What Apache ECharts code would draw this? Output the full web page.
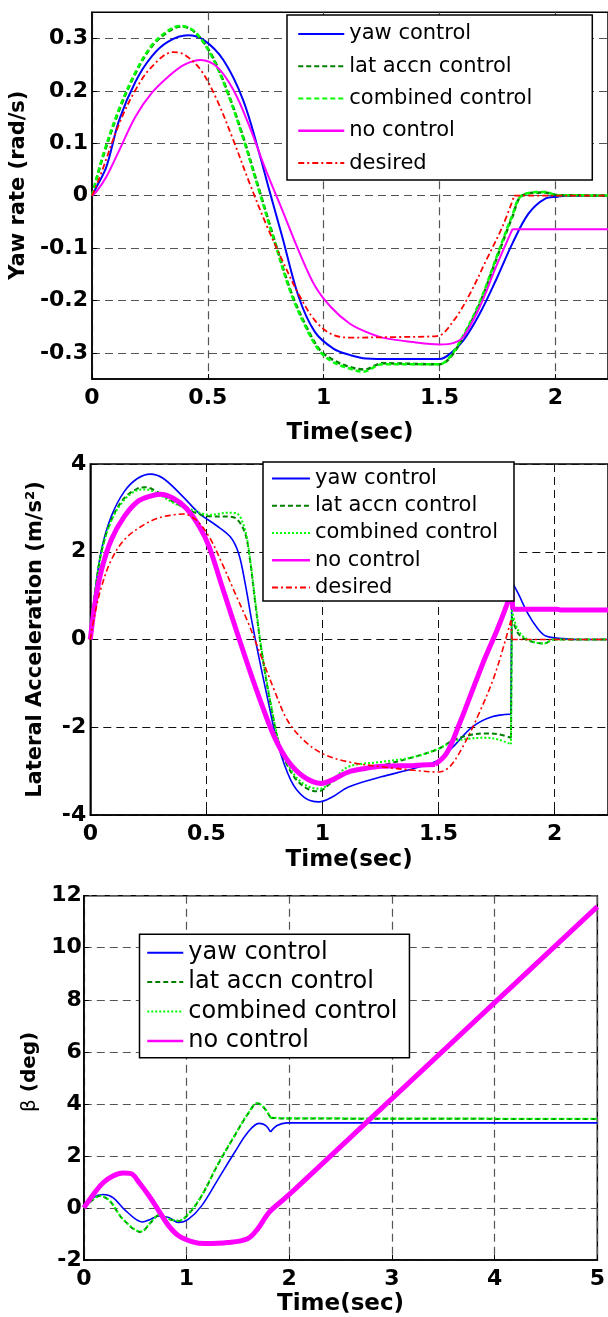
<!DOCTYPE html>
<html>
<head>
<meta charset="utf-8">
<script src="https://cdn.jsdelivr.net/npm/echarts@6/dist/echarts.min.js"></script>
<style>
  html, body { margin: 0; padding: 0; background: #fff; }
  #main { width: 608px; height: 1317px; }
</style>
</head>
<body>
<div id="main"></div>
<script>
// ---- yaw rate (rad/s) ----
var yrYaw = [[0,0],[0.02,0.017],[0.062,0.055],[0.118,0.145],[0.188,0.218],[0.258,0.266],[0.329,0.294],[0.413,0.306],[0.483,0.297],[0.567,0.259],[0.652,0.183],[0.722,0.081],[0.765,0.011],[0.821,-0.078],[0.892,-0.193],[0.962,-0.26],[1.042,-0.292],[1.112,-0.304],[1.183,-0.311],[1.3,-0.312],[1.5,-0.312],[1.548,-0.301],[1.604,-0.276],[1.674,-0.225],[1.744,-0.161],[1.815,-0.091],[1.885,-0.034],[1.955,-0.006],[2.01,-0.002],[2.05,0],[2.5,0]];
var yrLat = [[0,0],[0.048,0.075],[0.118,0.164],[0.188,0.234],[0.258,0.285],[0.329,0.313],[0.385,0.323],[0.441,0.313],[0.512,0.272],[0.582,0.202],[0.652,0.113],[0.722,0.011],[0.792,-0.091],[0.862,-0.187],[0.933,-0.257],[0.985,-0.295],[1.042,-0.314],[1.112,-0.327],[1.176,-0.332],[1.253,-0.32],[1.5,-0.322],[1.548,-0.308],[1.604,-0.269],[1.674,-0.206],[1.744,-0.123],[1.815,-0.04],[1.857,0],[1.955,0.006],[2.01,0.001],[2.5,0]];
var yrComb = [[0,0],[0.048,0.078],[0.118,0.167],[0.188,0.236],[0.258,0.287],[0.329,0.315],[0.38,0.324],[0.441,0.314],[0.512,0.27],[0.582,0.2],[0.652,0.11],[0.722,0.008],[0.792,-0.094],[0.862,-0.19],[0.933,-0.26],[0.985,-0.298],[1.042,-0.318],[1.112,-0.33],[1.17,-0.336],[1.253,-0.322],[1.5,-0.322],[1.548,-0.306],[1.604,-0.266],[1.674,-0.203],[1.744,-0.12],[1.815,-0.037],[1.857,0.001],[1.955,0.007],[2.01,0.001],[2.5,0]];
var yrNone = [[0,0],[0.02,0.008],[0.062,0.036],[0.118,0.087],[0.188,0.151],[0.258,0.196],[0.329,0.227],[0.399,0.25],[0.469,0.259],[0.539,0.246],[0.61,0.202],[0.68,0.132],[0.75,0.049],[0.821,-0.027],[0.891,-0.104],[0.962,-0.172],[1.032,-0.213],[1.112,-0.244],[1.183,-0.26],[1.253,-0.271],[1.393,-0.28],[1.5,-0.284],[1.562,-0.281],[1.604,-0.269],[1.674,-0.212],[1.744,-0.136],[1.815,-0.064],[2.5,-0.064]];
var yrDes = [[0,0],[0.034,0.036],[0.118,0.138],[0.188,0.202],[0.258,0.246],[0.35,0.274],[0.399,0.269],[0.469,0.24],[0.539,0.183],[0.61,0.106],[0.68,0.024],[0.75,-0.053],[0.821,-0.123],[0.891,-0.187],[0.962,-0.238],[1.032,-0.264],[1.112,-0.271],[1.3,-0.27],[1.49,-0.268],[1.562,-0.238],[1.632,-0.187],[1.702,-0.123],[1.772,-0.059],[1.823,0],[2.5,0]];

// ---- lateral acceleration (m/s^2) ----
var laYaw = [[0,0],[0.02,1.05],[0.048,2.04],[0.09,2.8],[0.146,3.37],[0.203,3.67],[0.259,3.77],[0.315,3.67],[0.4,3.25],[0.47,2.87],[0.54,2.61],[0.603,2.34],[0.639,1.96],[0.667,1.28],[0.695,0.44],[0.723,-0.32],[0.765,-1.38],[0.807,-2.37],[0.864,-3.21],[0.92,-3.59],[0.985,-3.7],[1.042,-3.59],[1.112,-3.36],[1.253,-3.13],[1.393,-2.94],[1.5,-2.75],[1.562,-2.45],[1.646,-1.99],[1.73,-1.76],[1.812,-1.7],[1.816,1.32],[1.843,1.05],[1.885,0.59],[1.927,0.25],[1.962,0.08],[2.04,0.02],[2.1,0],[2.5,0]];
var laLat = [[0,0],[0.02,1.05],[0.048,2.0],[0.09,2.72],[0.146,3.22],[0.203,3.44],[0.238,3.47],[0.287,3.37],[0.371,3.1],[0.442,2.91],[0.512,2.81],[0.596,2.8],[0.632,2.74],[0.667,2.42],[0.688,1.81],[0.709,0.9],[0.737,-0.24],[0.779,-1.54],[0.821,-2.52],[0.878,-3.13],[0.934,-3.4],[0.98,-3.46],[1.042,-3.25],[1.112,-3.02],[1.253,-2.87],[1.393,-2.68],[1.5,-2.49],[1.562,-2.3],[1.632,-2.18],[1.702,-2.14],[1.758,-2.16],[1.812,-2.24],[1.816,0.52],[1.843,0.14],[1.885,-0.02],[1.955,-0.09],[1.997,0],[2.5,0]];
var laComb = [[0,0],[0.02,1.03],[0.048,1.98],[0.09,2.7],[0.146,3.18],[0.203,3.4],[0.24,3.42],[0.287,3.33],[0.371,3.08],[0.442,2.95],[0.512,2.84],[0.596,2.89],[0.632,2.87],[0.667,2.49],[0.688,1.85],[0.709,0.95],[0.737,-0.2],[0.779,-1.5],[0.821,-2.48],[0.878,-3.08],[0.934,-3.34],[0.99,-3.4],[1.042,-3.21],[1.112,-2.9],[1.253,-2.79],[1.393,-2.68],[1.5,-2.49],[1.562,-2.33],[1.632,-2.26],[1.702,-2.24],[1.758,-2.28],[1.812,-2.39],[1.816,0.67],[1.843,0.21],[1.885,0],[1.955,-0.09],[1.997,0],[2.5,0]];
var laNone = [[0,0],[0.02,0.82],[0.048,1.58],[0.09,2.27],[0.146,2.8],[0.203,3.14],[0.259,3.27],[0.301,3.31],[0.357,3.22],[0.413,2.99],[0.47,2.57],[0.512,2.11],[0.568,1.2],[0.624,0.29],[0.681,-0.62],[0.737,-1.46],[0.793,-2.22],[0.849,-2.75],[0.92,-3.13],[0.995,-3.28],[1.042,-3.2],[1.112,-3.02],[1.183,-2.94],[1.253,-2.89],[1.393,-2.87],[1.485,-2.85],[1.534,-2.6],[1.59,-1.92],[1.646,-1.16],[1.702,-0.4],[1.758,0.29],[1.815,1.09],[1.82,0.69],[2.01,0.69],[2.03,0.67],[2.5,0.67]];
var laDes = [[0,0],[0.02,0.59],[0.048,1.2],[0.09,1.81],[0.146,2.27],[0.217,2.57],[0.287,2.76],[0.357,2.84],[0.4,2.86],[0.456,2.72],[0.512,2.34],[0.568,1.73],[0.624,1.05],[0.681,0.37],[0.737,-0.4],[0.793,-1.16],[0.849,-1.84],[0.92,-2.3],[1.0,-2.6],[1.112,-2.79],[1.253,-2.9],[1.393,-2.98],[1.5,-3.02],[1.548,-2.9],[1.604,-2.45],[1.674,-1.69],[1.744,-0.78],[1.812,0.44],[1.816,0],[2.5,0]];

// ---- beta (deg) ----
var bYaw = [[0,0],[0.093,0.4],[0.188,0.52],[0.284,0.4],[0.412,-0.12],[0.572,-0.54],[0.652,-0.43],[0.732,-0.31],[0.827,-0.37],[0.923,-0.56],[1.019,-0.43],[1.147,0.08],[1.307,1.1],[1.466,2.12],[1.594,2.89],[1.706,3.25],[1.77,3.17],[1.818,2.92],[1.882,3.17],[1.978,3.27],[5,3.27]];
var bLat = [[0,0],[0.093,0.33],[0.157,0.46],[0.252,0.27],[0.38,-0.43],[0.556,-0.92],[0.652,-0.56],[0.732,-0.28],[0.827,-0.43],[0.923,-0.5],[1.019,-0.24],[1.147,0.46],[1.307,1.68],[1.466,2.76],[1.594,3.59],[1.69,4.02],[1.754,3.85],[1.818,3.47],[1.946,3.44],[5,3.42]];
var bComb = [[0,0],[0.093,0.34],[0.157,0.47],[0.252,0.28],[0.38,-0.42],[0.556,-0.9],[0.652,-0.55],[0.732,-0.27],[0.827,-0.42],[0.923,-0.49],[1.019,-0.22],[1.147,0.48],[1.307,1.7],[1.466,2.78],[1.594,3.6],[1.69,4.03],[1.754,3.86],[1.818,3.48],[1.946,3.45],[5,3.43]];
var bNone = [[0,0],[0.093,0.52],[0.188,0.97],[0.284,1.23],[0.38,1.34],[0.46,1.32],[0.54,0.97],[0.636,0.46],[0.732,-0.12],[0.827,-0.69],[0.923,-1.07],[1.051,-1.29],[1.179,-1.37],[1.403,-1.33],[1.594,-1.18],[1.69,-0.82],[1.802,-0.18],[1.946,0.33],[2.073,0.78],[5,11.58]];

// tick labels
var yrTicks = [-0.3, -0.2, -0.1, 0, 0.1, 0.2, 0.3];
var tTicks = [0, 0.5, 1, 1.5, 2];

var legend1 = ['yaw control', 'lat accn control', 'combined control', 'no control', 'desired'];
// trailing spaces keep the legend of each panel tied to its own series
var legend2 = ['yaw control ', 'lat accn control ', 'combined control ', 'no control ', 'desired '];
var legend3 = ['yaw control  ', 'lat accn control  ', 'combined control  ', 'no control  '];

var BLUE = '#0000ff', DKGREEN = '#008000', GREEN = '#00ff00', MAGENTA = '#ff00ff', RED = '#ff0000';
var DASH = [5, 3], DOT = [2, 2], DASHDOT = [6, 3, 2, 3];

var chart = echarts.init(document.getElementById('main'), null, { renderer: 'canvas' });

var tickFont = { fontFamily: 'DejaVu Sans', fontWeight: 'bold', fontSize: 22, color: '#000' };

// restart the smoothing at sharp corners / jumps so the curve does not overshoot
function corners(data, at) {
    var out = [];
    data.forEach(function(p) {
        out.push(p);
        if (at && at.indexOf(p[0]) >= 0) {
            out.push([p[0], '-']);
            out.push(p);
        }
    });
    return out;
}

function xAx(idx, max, custom, gap, grid) {
    return {
        type: 'value', gridIndex: idx, min: 0, max: max, interval: custom ? null : 1,
        name: 'Time(sec)', nameLocation: 'middle', nameGap: gap,
        nameTextStyle: { fontFamily: 'DejaVu Sans', fontWeight: 'bold', fontSize: 23, color: '#000' },
        axisLine: { onZero: false, lineStyle: { color: '#000', width: 1.5 } },
        axisTick: { inside: true, length: 5, lineStyle: { color: '#000' }, customValues: custom || undefined },
        axisLabel: Object.assign({ margin: 8, customValues: custom || undefined }, tickFont),
        splitLine: { show: true, lineStyle: grid }
    };
}

function yAx(idx, opt, grid) {
    return Object.assign({
        type: 'value', gridIndex: idx, nameLocation: 'middle',
        axisLine: { onZero: false, lineStyle: { color: '#000', width: 1.5 } },
        axisTick: { inside: true, length: 5, lineStyle: { color: '#000' }, customValues: opt.custom },
        axisLabel: Object.assign({ margin: opt.margin, customValues: opt.custom }, tickFont),
        splitLine: { show: true, lineStyle: grid }
    }, opt.ax);
}

function ser(name, data, idx, color, width, type, at) {
    return {
        name: name, type: 'line', xAxisIndex: idx, yAxisIndex: idx,
        data: corners(data, at),
        smooth: 0.35, connectNulls: false,
        symbol: 'none', showSymbol: false,
        lineStyle: { color: color, width: width, type: type },
        itemStyle: { color: color },
        emphasis: { disabled: true }
    };
}

function leg(names, box) {
    return {
        orient: 'vertical', left: box.left, top: box.top, padding: box.padding,
        itemGap: box.gap, itemWidth: box.iw, itemHeight: 12,
        borderColor: '#000', borderWidth: 1.5, backgroundColor: '#fff', borderRadius: 0,
        selectedMode: false,
        itemStyle: { opacity: 0 },
        textStyle: { fontFamily: 'DejaVu Sans', fontSize: box.fs, lineHeight: box.fs, color: '#000' },
        formatter: function(n) { return n.trim(); },
        data: names.map(function(n) {
            return n.indexOf('no control') === 0 ? { name: n, lineStyle: { width: 2.5 } } : { name: n };
        })
    };
}

var gridLine1 = { color: '#555', width: 1.2, type: [8, 5] };
var gridLine2 = { color: '#111', width: 1, type: [8, 5] };
var gridLine3 = { color: '#555', width: 1.2, type: [8, 5] };

var option = {
    animation: false,
    backgroundColor: '#fff',
    grid: [
        { left: 90.3, top: 12.3, right: -10, height: 366.7, show: true, borderColor: '#000', borderWidth: 1.5 },
        { left: 90.3, top: 464, right: -10, height: 351, show: true, borderColor: '#000', borderWidth: 1.5 },
        { left: 83.8, top: 895.7, width: 521.5, height: 365, show: true, borderColor: '#000', borderWidth: 1.5 }
    ],
    legend: [
        leg(legend1, { left: 287, top: 15, padding: [8.4, 60, 6.4, 10], gap: 11.3, iw: 46, fs: 21 }),
        leg(legend2, { left: 263, top: 462, padding: [6, 16, 3, 7.7], gap: 6.25, iw: 38, fs: 21 }),
        leg(legend3, { left: 139.5, top: 934.3, padding: [6.4, 12, 4.8, 6.5], gap: 5.4, iw: 36, fs: 24 })
    ],
    xAxis: [
        xAx(0, 2.2275, tTicks, 43, gridLine1),
        xAx(1, 2.23, tTicks, 34, gridLine2),
        xAx(2, 5, null, 33, gridLine3)
    ],
    yAxis: [
        yAx(0, { custom: yrTicks, margin: 4, ax: { min: -0.35, max: 0.35, name: 'Yaw rate (rad/s)', nameGap: 50,
            nameTextStyle: { fontFamily: 'DejaVu Sans', fontWeight: 'bold', fontSize: 21, color: '#000', padding: [0, 0, 0, 21] } } }, gridLine1),
        yAx(1, { margin: 4, ax: { min: -4, max: 4, interval: 2, name: 'Lateral Acceleration (m/s²)', nameGap: 44,
            nameTextStyle: { fontFamily: 'DejaVu Sans', fontWeight: 'bold', fontSize: 21, color: '#000' } } }, gridLine2),
        yAx(2, { margin: 2, ax: { min: -2, max: 12, interval: 2, name: '{g|β} (deg)', nameGap: 43,
            nameTextStyle: { fontFamily: 'DejaVu Sans', fontWeight: 'bold', fontSize: 20, color: '#000', padding: [0, 0, 0, 12],
                rich: { g: { fontFamily: 'DejaVu Sans', fontWeight: 'normal', fontSize: 20, color: '#000' } } } } }, gridLine3)
    ],
    series: [
        ser(legend1[0], yrYaw, 0, BLUE, 2, 'solid'),
        ser(legend1[1], yrLat, 0, DKGREEN, 2.5, DASH),
        ser(legend1[2], yrComb, 0, GREEN, 2.5, DASH),
        ser(legend1[3], yrNone, 0, MAGENTA, 2, 'solid', [1.815]),
        ser(legend1[4], yrDes, 0, RED, 1.8, DASHDOT, [1.823]),

        ser(legend2[0], laYaw, 1, BLUE, 1.6, 'solid', [1.812, 1.816]),
        ser(legend2[1], laLat, 1, DKGREEN, 2, DASH, [1.812, 1.816]),
        ser(legend2[2], laComb, 1, GREEN, 2, DOT, [1.812, 1.816]),
        ser(legend2[3], laNone, 1, MAGENTA, 5, 'solid', [1.485, 1.815, 1.82]),
        ser(legend2[4], laDes, 1, RED, 1.6, DASHDOT, [1.812, 1.816]),

        ser(legend3[0], bYaw, 2, BLUE, 1.6, 'solid', [1.818]),
        ser(legend3[1], bLat, 2, DKGREEN, 2, DASH, [1.818]),
        ser(legend3[2], bComb, 2, GREEN, 2, DOT, [1.818]),
        ser(legend3[3], bNone, 2, MAGENTA, 5, 'solid')
    ]
};

chart.setOption(option);
</script>
</body>
</html>
